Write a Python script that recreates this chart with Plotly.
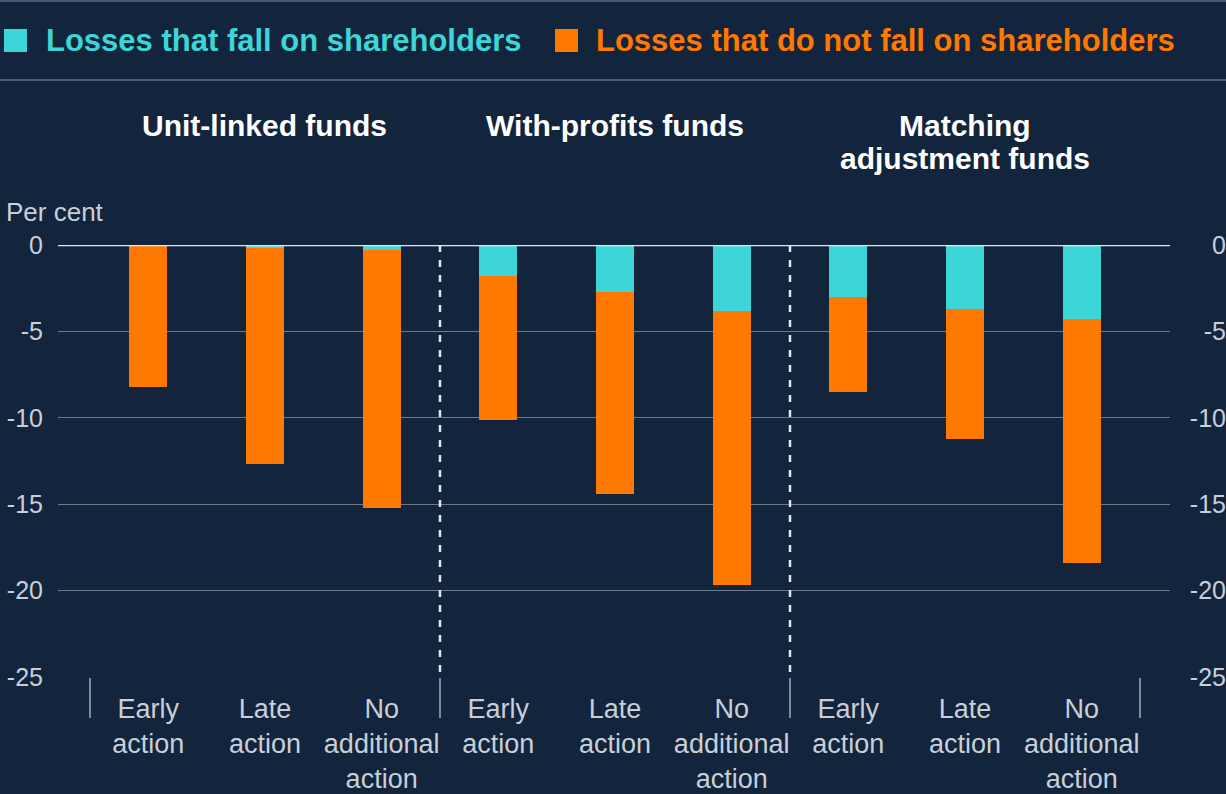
import plotly.graph_objects as go

# ---- data ----
categories = ["Early<br>action", "Late<br>action", "No<br>additional<br>action",
              "Early<br>action", "Late<br>action", "No<br>additional<br>action",
              "Early<br>action", "Late<br>action", "No<br>additional<br>action"]
groups = ["Unit-linked funds", "With-profits funds", "Matching<br>adjustment funds"]
shareholder_losses = [-0.05, -0.2, -0.3, -1.8, -2.7, -3.8, -3.0, -3.7, -4.3]
other_losses = [-8.15, -12.5, -14.9, -8.3, -11.7, -15.9, -5.5, -7.5, -14.1]
y_ticks = [0, -5, -10, -15, -20, -25]
series_names = ["Losses that fall on shareholders", "Losses that do not fall on shareholders"]

BG = "#13253D"
CYAN = "#3DD6D8"
ORANGE = "#FF7800"
TEXT = "#C9CFD8"
GRID = "#6C798B"
FONT = "Liberation Sans, Arial, sans-serif"

W, H = 1226, 794
ML, MR, MT, MB = 58, 0, 245, 117
PLOT_RIGHT = 1170
xdom_end = (PLOT_RIGHT - ML) / (W - ML - MR)


def px(x):
    return (x - ML) / (W - ML - MR)


def py(y):
    return (H - MB - y) / (H - MT - MB)


xpos = list(range(len(categories)))
xr = [-0.774, 8.757]

fig = go.Figure()
fig.add_trace(go.Bar(x=xpos, y=shareholder_losses, name=series_names[0],
                     marker=dict(color=CYAN, line=dict(width=0)), width=0.326,
                     showlegend=False))
fig.add_trace(go.Bar(x=xpos, y=other_losses, name=series_names[1],
                     marker=dict(color=ORANGE, line=dict(width=0)), width=0.326,
                     showlegend=False))

shapes = []
# group separators (dashed)
for b in [2.5, 5.5]:
    shapes.append(dict(type="line", xref="x", yref="y", x0=b, x1=b, y0=0, y1=-25,
                       line=dict(color="#E3E7EC", width=2.5, dash="7px,8px"), layer="above"))
# zero line
shapes.append(dict(type="line", xref="paper", yref="y", x0=0, x1=xdom_end, y0=0, y1=0,
                   line=dict(color="#E3E7EC", width=2.5), layer="above"))
# legend rule lines
for yy in [1, 80]:
    shapes.append(dict(type="line", xref="paper", yref="paper", x0=px(0), x1=px(W),
                       y0=py(yy), y1=py(yy), line=dict(color="#5E6B7D", width=1.5)))
# legend squares
shapes.append(dict(type="rect", xref="paper", yref="paper", x0=px(4), x1=px(27),
                   y0=py(52), y1=py(29), fillcolor=CYAN, line=dict(width=0)))
shapes.append(dict(type="rect", xref="paper", yref="paper", x0=px(555), x1=px(578),
                   y0=py(52), y1=py(29), fillcolor=ORANGE, line=dict(width=0)))

annotations = []
annotations.append(dict(text=series_names[0], xref="paper", yref="paper", x=px(44), y=py(40),
                        xanchor="left", yanchor="middle", showarrow=False,
                        font=dict(family=FONT, size=31, color=CYAN, weight="bold")))
annotations.append(dict(text=series_names[1], xref="paper", yref="paper", x=px(594), y=py(40),
                        xanchor="left", yanchor="middle", showarrow=False,
                        font=dict(family=FONT, size=31, color=ORANGE, weight="bold")))
for i, g in enumerate(groups):
    for j, line in enumerate(g.split("<br>")):
        annotations.append(dict(text=line, xref="x", yref="paper", x=3 * i + 1,
                                y=py(125 + 33 * j),
                                xanchor="center", yanchor="middle", showarrow=False,
                                font=dict(family=FONT, size=30, color="white", weight="bold")))
annotations.append(dict(text="Per cent", xref="paper", yref="paper", x=px(4), y=py(212),
                        xanchor="left", yanchor="middle", showarrow=False,
                        font=dict(family=FONT, size=26, color=TEXT)))

fig.update_layout(
    width=W, height=H,
    margin=dict(l=ML, r=MR, t=MT, b=MB, pad=0),
    paper_bgcolor=BG, plot_bgcolor=BG,
    barmode="relative", bargap=0,
    font=dict(family=FONT, size=25, color=TEXT),
    shapes=shapes, annotations=annotations,
    xaxis=dict(domain=[0, xdom_end], range=xr, tickvals=xpos, ticktext=categories,
               showgrid=False, zeroline=False, showline=False, ticks="",
               ticklabelstandoff=13, tickfont=dict(size=27, color=TEXT)),
    xaxis2=dict(domain=[0, xdom_end], range=xr, overlaying="x", anchor="y", side="bottom",
                tickvals=[-0.5, 2.5, 5.5, 8.5], ticks="outside", ticklen=40, tickwidth=1.5,
                tickcolor="#7E8A9A", showticklabels=False, showgrid=False, zeroline=False,
                showline=False),
    yaxis=dict(range=[-25, 0], tickvals=y_ticks, ticktext=[str(v) for v in y_ticks],
               showgrid=True, gridcolor=GRID, gridwidth=1, zeroline=False, showline=False,
               ticks="", ticklabelstandoff=14, tickfont=dict(size=25, color=TEXT)),
    yaxis2=dict(range=[-25, 0], overlaying="y", anchor="free", position=1, side="left",
                tickvals=y_ticks, ticktext=[str(v) for v in y_ticks], showgrid=False,
                zeroline=False, showline=False, ticks="", ticklabelstandoff=0,
                tickfont=dict(size=25, color=TEXT)),
)
# invisible trace so that the secondary axes are drawn
fig.add_trace(go.Scatter(x=[xpos[0]], y=[y_ticks[0]], xaxis="x2", yaxis="y2", mode="markers",
                         marker=dict(opacity=0), showlegend=False, hoverinfo="skip"))

fig.write_html("out.html", config={"displayModeBar": False},
               post_script="document.body.style.margin='0';document.body.style.background='#13253D';")
